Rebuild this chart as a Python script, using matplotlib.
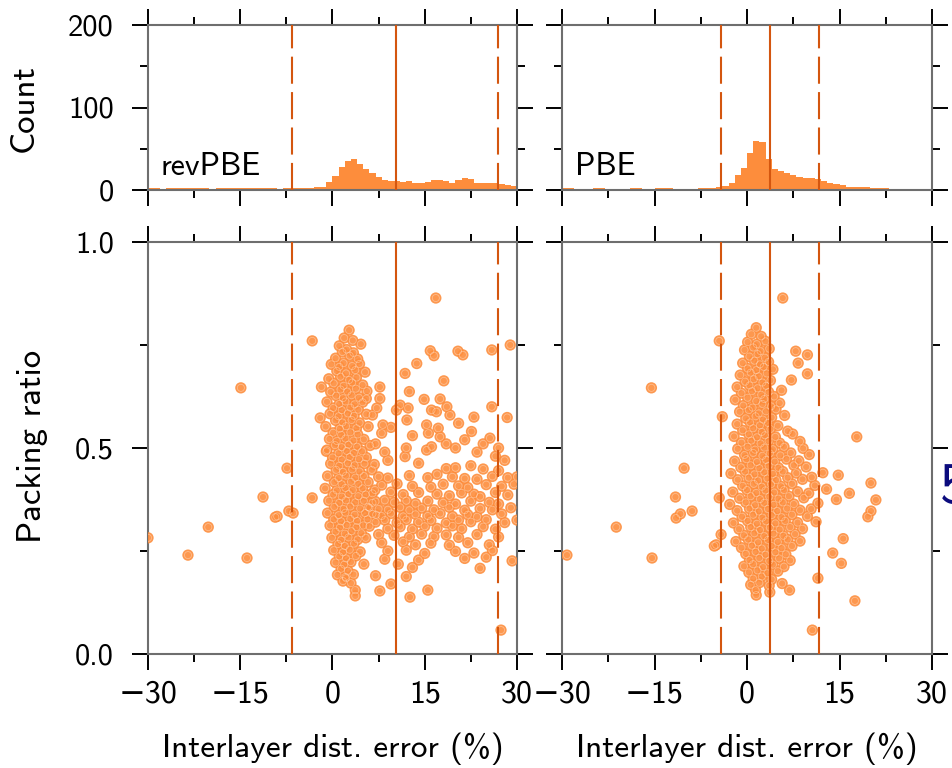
import numpy as np
import matplotlib
matplotlib.use("Agg")
import matplotlib.pyplot as plt
from matplotlib.ticker import MultipleLocator

plt.rcParams['font.family'] = ['cmss10', 'DejaVu Sans']
plt.rcParams['axes.unicode_minus'] = True

# ---------------- data ----------------
functionals = ["revPBE", "PBE"]
bin_centers = np.arange(-29.5, 30.0, 1.0)

rev_counts = [2, 2, 1, 2, 2, 2, 3, 2, 2, 2, 1, 2, 2, 3, 2, 2, 2, 2, 3, 2, 2, 1, 2, 3,
              2, 3, 3, 4, 4, 10,
              17, 28, 35, 37, 32, 26, 21, 16, 12, 11, 11, 10, 11, 9, 9, 10, 12, 12, 11, 9,
              12, 15, 13, 9, 9, 9, 8, 7, 6, 5]
pbe_counts = [2, 2, 1, 1, 1, 2, 2, 1, 1, 1, 1, 2, 2, 1, 1, 2, 2, 2, 1, 1, 1, 1, 2, 2, 3,
              4, 5, 9, 18, 27,
              45, 60, 58, 38, 25, 23, 21, 18, 16, 15, 14, 13, 11, 8, 7, 6, 4, 4, 4, 4,
              3, 2, 2, 1, 1, 1, 1, 1, 1, 1]

rev_mean, rev_lo, rev_hi = 10.3, -6.6, 26.9
pbe_mean, pbe_lo, pbe_hi = 3.7, -4.2, 11.7

# revPBE: (interlayer distance error %, packing ratio)
rev_core = [
    (2.7, 0.786), (1.9, 0.767), (3.3, 0.761), (1.1, 0.748), (4.6, 0.752),
    (1.6, 0.733), (2.3, 0.739), (3.4, 0.731), (0.5, 0.718), (2.8, 0.724), (4.1, 0.716),
    (-0.2, 0.703), (1.1, 0.697), (1.8, 0.706), (3.2, 0.699), (4.4, 0.704),
    (0.7, 0.687), (2.2, 0.681), (3.7, 0.689), (5.3, 0.684),
    (-0.6, 0.668), (1.3, 0.673), (2.7, 0.665), (3.9, 0.671),
    (0.2, 0.657), (1.8, 0.651), (3.2, 0.659), (4.9, 0.653), (-1.8, 0.648),
    (-0.3, 0.636), (1.3, 0.642), (2.4, 0.637), (3.8, 0.644), (5.6, 0.638),
    (0.6, 0.627), (1.7, 0.621), (3.1, 0.628), (4.3, 0.622),
    (-0.9, 0.612), (1.1, 0.607), (2.1, 0.613), (3.6, 0.606), (4.9, 0.611),
    (0.1, 0.597), (1.5, 0.592), (2.9, 0.598), (4.2, 0.593),
    (-0.4, 0.583), (1.0, 0.577), (2.5, 0.584), (3.5, 0.578), (5.5, 0.582),
    (0.5, 0.567), (1.6, 0.562), (3.1, 0.568), (4.4, 0.561),
    (-1.1, 0.552), (1.2, 0.547), (2.2, 0.553), (3.9, 0.548), (5.8, 0.552),
    (0.1, 0.537), (1.4, 0.532), (2.9, 0.538), (4.1, 0.533),
    (-0.5, 0.522), (0.7, 0.517), (2.1, 0.523), (3.4, 0.518), (5.1, 0.521),
    (0.4, 0.507), (1.5, 0.502), (2.6, 0.508), (4.0, 0.503), (6.1, 0.506),
    (-1.0, 0.492), (1.0, 0.487), (2.3, 0.493), (3.5, 0.488), (4.8, 0.492),
    (0.0, 0.477), (1.5, 0.472), (2.8, 0.478), (4.3, 0.473), (5.5, 0.477),
    (-0.3, 0.462), (1.1, 0.457), (2.5, 0.463), (3.6, 0.458), (5.2, 0.462),
    (0.6, 0.447), (1.7, 0.442), (3.2, 0.448), (4.4, 0.443), (6.4, 0.447),
    (-0.8, 0.432), (1.0, 0.427), (2.2, 0.433), (3.7, 0.428), (5.1, 0.432),
    (0.3, 0.417), (1.5, 0.412), (3.0, 0.418), (4.2, 0.413), (5.8, 0.417),
    (-1.2, 0.402), (0.7, 0.397), (2.1, 0.403), (3.3, 0.398), (4.9, 0.402), (6.9, 0.398),
    (0.1, 0.387), (1.5, 0.382), (2.6, 0.388), (4.2, 0.383), (5.4, 0.387),
    (-0.6, 0.372), (1.1, 0.367), (2.2, 0.373), (3.7, 0.368), (5.1, 0.372), (6.5, 0.367),
    (0.3, 0.357), (1.8, 0.352), (2.9, 0.358), (4.5, 0.353), (5.8, 0.357),
    (-0.8, 0.342), (1.0, 0.337), (2.1, 0.343), (3.6, 0.338), (5.3, 0.342), (7.1, 0.338),
    (0.2, 0.327), (1.4, 0.322), (2.9, 0.328), (4.0, 0.323), (5.7, 0.327),
    (-0.4, 0.312), (1.2, 0.307), (2.3, 0.313), (3.9, 0.308), (5.0, 0.312),
    (0.5, 0.297), (2.0, 0.292), (3.1, 0.298), (4.7, 0.293),
    (-0.1, 0.282), (1.4, 0.277), (2.6, 0.283), (4.1, 0.278), (5.4, 0.282),
    (0.9, 0.267), (2.0, 0.262), (3.5, 0.268),
    (0.2, 0.252), (1.7, 0.247), (2.8, 0.253), (4.5, 0.248),
    (1.1, 0.237), (2.2, 0.232), (3.8, 0.238),
    (0.5, 0.222), (1.9, 0.217), (3.0, 0.223), (5.1, 0.218),
    (1.4, 0.207), (2.5, 0.202), (0.8, 0.192), (2.1, 0.187), (3.4, 0.193),
    (1.7, 0.177), (3.0, 0.172), (2.2, 0.184), (3.7, 0.155), (3.7, 0.141), (7.7, 0.153),
]
rev_upper = [
    (7.7, 0.648), (5.5, 0.62), (7.7, 0.62), (7.2, 0.597), (6.5, 0.58), (8.2, 0.556),
    (8.0, 0.536), (9.5, 0.55), (7.0, 0.51), (8.5, 0.49), (9.0, 0.47), (6.8, 0.46),
    (10.4, 0.592), (11.0, 0.604), (12.3, 0.597), (12.1, 0.568), (11.8, 0.681),
    (13.7, 0.705), (12.5, 0.637), (14.9, 0.618), (17.5, 0.619), (18.1, 0.663),
    (16.1, 0.592), (16.9, 0.588), (18.6, 0.600), (19.1, 0.58), (15.3, 0.556),
    (15.6, 0.536), (17.2, 0.548), (17.5, 0.527), (22.6, 0.54), (25.9, 0.60),
    (28.4, 0.574), (25.6, 0.524), (15.3, 0.495), (16.1, 0.503), (18.5, 0.51),
    (20.0, 0.50), (21.5, 0.52), (23.5, 0.49), (24.5, 0.51), (27.0, 0.50),
    (28.0, 0.47), (26.5, 0.48), (20.5, 0.56), (23.0, 0.575), (13.0, 0.53), (12.0, 0.50),
    (11.8, 0.479), (14.0, 0.463),
]
rev_band = [
    (18.5, 0.45), (20.0, 0.452), (22.5, 0.457), (24.5, 0.449), (27.0, 0.445),
    (7.5, 0.43), (9.0, 0.427), (12.5, 0.433), (15.5, 0.428), (17.0, 0.436), (19.5, 0.43),
    (21.5, 0.426), (23.5, 0.424), (26.0, 0.431), (28.5, 0.428),
    (8.0, 0.41), (10.5, 0.413), (13.0, 0.407), (16.0, 0.405), (18.0, 0.412), (20.5, 0.408),
    (22.0, 0.404), (25.0, 0.411), (27.5, 0.407), (29.5, 0.412),
    (6.5, 0.39), (9.5, 0.393), (11.5, 0.387), (14.0, 0.392), (17.0, 0.388), (19.0, 0.384),
    (21.0, 0.391), (23.0, 0.388), (24.0, 0.382), (26.5, 0.392), (28.5, 0.386),
    (7.0, 0.37), (8.5, 0.373), (10.0, 0.368), (12.0, 0.372), (13.5, 0.365), (15.5, 0.371),
    (18.0, 0.367), (20.0, 0.364), (22.5, 0.371), (25.5, 0.368), (27.0, 0.364),
    (6.0, 0.355), (7.5, 0.352), (9.0, 0.35), (11.0, 0.356), (12.5, 0.349), (14.5, 0.354),
    (16.5, 0.35), (19.0, 0.356), (21.5, 0.349), (24.0, 0.353), (26.0, 0.35), (29.0, 0.355),
    (6.5, 0.34), (8.0, 0.335), (9.5, 0.341), (11.5, 0.334), (13.5, 0.339), (15.5, 0.335),
    (17.5, 0.341), (19.5, 0.334), (22.0, 0.338), (23.5, 0.333), (27.5, 0.34),
    (7.0, 0.32), (8.5, 0.325), (10.5, 0.319), (12.0, 0.326), (14.0, 0.32), (16.0, 0.324),
    (18.5, 0.318), (20.5, 0.325), (22.5, 0.321), (25.0, 0.326), (28.0, 0.319), (30.0, 0.325),
    (6.0, 0.31), (9.0, 0.304), (11.0, 0.309), (13.0, 0.303), (15.0, 0.31), (17.0, 0.305),
    (19.5, 0.311), (21.0, 0.304), (24.5, 0.309), (26.5, 0.303),
    (7.5, 0.29), (10.0, 0.288), (12.5, 0.284), (14.5, 0.291), (16.5, 0.285), (18.5, 0.289),
    (20.5, 0.283), (23.5, 0.29), (27.0, 0.284),
    (8.0, 0.27), (11.5, 0.272), (13.5, 0.265), (16.0, 0.269), (19.0, 0.264), (22.0, 0.27),
    (25.5, 0.265), (9.0, 0.25), (12.0, 0.252), (15.0, 0.244), (20.0, 0.249), (23.0, 0.245),
    (26.0, 0.251), (8.5, 0.23), (14.0, 0.228), (21.5, 0.232), (25.0, 0.235), (29.2, 0.226),
    (10.7, 0.218), (13.0, 0.21), (24.0, 0.208), (7.0, 0.19), (12.0, 0.188), (9.5, 0.17),
    (15.5, 0.155), (12.6, 0.138),
]
rev_outliers = [
    (-30.0, 0.282), (-23.5, 0.24), (-20.2, 0.308), (-14.9, 0.646), (-13.9, 0.233),
    (-11.3, 0.381), (-9.3, 0.332), (-9.0, 0.334), (-7.4, 0.451), (-7.1, 0.347),
    (-6.4, 0.342), (-3.3, 0.76), (-3.3, 0.379), (-2.0, 0.573), (-0.9, 0.495),
    (16.8, 0.864), (15.9, 0.736), (16.5, 0.724), (20.4, 0.735), (21.2, 0.726),
    (25.9, 0.738), (28.9, 0.75), (27.4, 0.058), (30.0, 0.43),
]

pbe_core = [
    (1.5, 0.792), (0.7, 0.776), (2.3, 0.771), (0.1, 0.757), (1.6, 0.752), (3.0, 0.759),
    (-0.4, 0.738), (1.0, 0.744), (2.2, 0.735), (3.6, 0.741), (0.4, 0.722), (1.7, 0.728), (2.9, 0.719),
    (-0.7, 0.706), (1.2, 0.712), (2.1, 0.703), (3.5, 0.709), (0.1, 0.693), (1.5, 0.689), (2.7, 0.697), (4.2, 0.691),
    (-1.1, 0.677), (0.6, 0.683), (1.9, 0.674), (3.2, 0.681), (-0.3, 0.661), (1.1, 0.667), (2.5, 0.659), (3.8, 0.664),
    (-1.6, 0.648), (0.4, 0.652), (1.7, 0.645), (3.1, 0.651), (-0.9, 0.633), (0.8, 0.638), (2.3, 0.629), (3.5, 0.636),
    (5.6, 0.64), (-1.9, 0.617), (0.1, 0.622), (1.5, 0.614), (2.8, 0.619), (4.4, 0.625),
    (-0.6, 0.603), (0.9, 0.598), (2.5, 0.607), (3.9, 0.601), (5.3, 0.609),
    (-1.2, 0.588), (0.3, 0.592), (1.9, 0.584), (3.1, 0.589), (4.7, 0.594),
    (-0.2, 0.572), (1.4, 0.577), (2.6, 0.569), (4.0, 0.574), (6.1, 0.579),
    (-1.6, 0.558), (0.5, 0.562), (2.1, 0.555), (3.4, 0.561), (5.0, 0.554),
    (-0.7, 0.543), (1.0, 0.548), (2.4, 0.539), (3.8, 0.546), (6.6, 0.541),
    (-2.1, 0.528), (0.3, 0.533), (1.6, 0.526), (2.9, 0.531), (4.6, 0.527), (7.4, 0.534),
    (-0.9, 0.513), (0.7, 0.518), (2.2, 0.511), (3.5, 0.517), (5.3, 0.512), (8.6, 0.516),
    (-1.5, 0.498), (0.1, 0.503), (1.3, 0.496), (2.8, 0.501), (4.2, 0.497), (6.0, 0.503), (9.1, 0.499),
    (-0.4, 0.483), (1.0, 0.488), (2.5, 0.481), (3.7, 0.487), (5.4, 0.482), (7.1, 0.488), (10.1, 0.484),
    (-2.0, 0.468), (-0.1, 0.473), (1.6, 0.466), (3.1, 0.471), (4.5, 0.467), (6.4, 0.473), (8.4, 0.469),
    (-1.0, 0.453), (0.6, 0.458), (2.0, 0.451), (3.5, 0.457), (5.1, 0.452), (7.6, 0.458), (9.6, 0.454),
    (-2.6, 0.438), (-0.3, 0.443), (1.2, 0.436), (2.8, 0.441), (4.2, 0.437), (5.8, 0.443), (8.0, 0.439),
    (-1.5, 0.423), (0.3, 0.428), (1.8, 0.421), (3.3, 0.426), (4.7, 0.422), (6.6, 0.428), (9.0, 0.424), (10.5, 0.429),
    (-0.7, 0.408), (1.1, 0.413), (2.4, 0.406), (3.9, 0.412), (5.5, 0.407), (7.3, 0.413), (11.0, 0.409),
    (-2.3, 0.393), (0.0, 0.398), (1.5, 0.391), (3.0, 0.397), (4.4, 0.392), (6.0, 0.398), (8.2, 0.394), (10.0, 0.39),
    (-1.2, 0.378), (0.6, 0.383), (2.1, 0.376), (3.6, 0.382), (5.1, 0.377), (6.8, 0.383), (9.2, 0.379),
    (-2.8, 0.363), (-0.2, 0.368), (1.3, 0.361), (2.8, 0.367), (4.3, 0.362), (5.8, 0.368), (7.6, 0.364), (11.5, 0.366),
    (-1.6, 0.348), (0.4, 0.353), (1.9, 0.346), (3.4, 0.352), (4.9, 0.347), (6.5, 0.353), (8.6, 0.349), (10.4, 0.352),
    (-0.8, 0.333), (1.0, 0.338), (2.5, 0.331), (4.0, 0.337), (5.6, 0.332), (7.3, 0.338), (9.8, 0.334),
    (-2.2, 0.318), (0.1, 0.323), (1.6, 0.316), (3.1, 0.322), (4.6, 0.317), (6.2, 0.323), (8.2, 0.319), (11.2, 0.321),
    (-1.3, 0.303), (0.6, 0.308), (2.1, 0.301), (3.7, 0.307), (5.3, 0.302), (7.0, 0.308), (9.0, 0.304),
    (-0.5, 0.288), (1.2, 0.293), (2.8, 0.286), (4.3, 0.292), (5.9, 0.287), (7.8, 0.291),
    (-1.8, 0.273), (0.2, 0.278), (1.8, 0.271), (3.4, 0.277), (5.0, 0.272), (6.6, 0.278), (8.6, 0.274),
    (-0.9, 0.258), (0.8, 0.263), (2.4, 0.256), (4.0, 0.262), (5.6, 0.257), (7.3, 0.262),
    (-0.2, 0.243), (1.4, 0.248), (3.0, 0.241), (4.6, 0.247), (6.3, 0.242),
    (0.4, 0.228), (2.0, 0.233), (3.6, 0.226), (5.2, 0.232), (7.0, 0.227),
    (-0.5, 0.213), (1.0, 0.218), (2.6, 0.211), (4.2, 0.217), (6.0, 0.212),
    (0.3, 0.198), (1.7, 0.203), (3.3, 0.196), (5.0, 0.201),
    (1.0, 0.183), (2.4, 0.188), (4.0, 0.181), (0.6, 0.168), (2.0, 0.173), (3.6, 0.166), (5.7, 0.171),
    (1.4, 0.155), (6.9, 0.155), (1.5, 0.143), (3.7, 0.15),
]
pbe_outliers = [
    (-29.2, 0.24), (-21.2, 0.308), (-15.5, 0.646), (-15.4, 0.233), (-11.6, 0.381),
    (-10.2, 0.451), (-11.5, 0.33), (-10.8, 0.34), (-8.9, 0.347), (-4.5, 0.76),
    (-4.5, 0.379), (-5.0, 0.265), (-4.0, 0.576), (-4.2, 0.29), (-5.3, 0.262),
    (5.8, 0.864), (7.9, 0.735), (9.8, 0.726), (8.3, 0.706), (9.8, 0.68), (7.2, 0.665),
    (17.8, 0.527), (20.1, 0.347), (20.9, 0.374), (20.1, 0.415), (19.6, 0.333),
    (17.5, 0.129), (10.6, 0.058), (14.8, 0.434), (16.6, 0.39), (15.6, 0.28),
    (15.3, 0.22), (13.9, 0.245), (12.9, 0.40), (14.5, 0.375), (12.3, 0.44),
    (11.5, 0.184), (31.0, 0.75),
]

rev_pts = np.array(rev_core + rev_upper + rev_band + rev_outliers)
pbe_pts = np.array(pbe_core + pbe_outliers)

# ---------------- styling ----------------
ORANGE = '#fd8d3c'
LINE = '#d4560f'
W, H = 953, 768

fig = plt.figure(figsize=(W / 100, H / 100), dpi=100)


def px_axes(x0, y0, x1, y1):
    return fig.add_axes([x0 / W, 1 - y1 / H, (x1 - x0) / W, (y1 - y0) / H])


def style(ax, xlab, ylab):
    for s in ax.spines.values():
        s.set_color('#6e6e6e')
        s.set_linewidth(1.5)
    ax.tick_params(which='both', direction='out', top=True, right=True,
                   color='black', width=1.4)
    ax.tick_params(which='major', length=11.5)
    ax.tick_params(which='minor', length=5.5)
    ax.tick_params(axis='x', labelbottom=xlab, labelsize=23, pad=7)
    ax.tick_params(axis='y', labelleft=ylab, labelsize=22, pad=13)
    ax.set_xlim(-30, 30)
    ax.xaxis.set_major_locator(MultipleLocator(15))
    ax.xaxis.set_minor_locator(MultipleLocator(7.5))


def vlines(ax, mean, lo, hi):
    ax.axvline(mean, color=LINE, lw=1.5, zorder=5)
    for v in (lo, hi):
        ax.axvline(v, color=LINE, lw=1.5, linestyle=(0, (13, 4)), zorder=5)


panels = [
    (148, 517, rev_counts, rev_pts, (rev_mean, rev_lo, rev_hi), functionals[0], True),
    (562, 932, pbe_counts, pbe_pts, (pbe_mean, pbe_lo, pbe_hi), functionals[1], False),
]

for x0, x1, counts, pts, lines, name, first in panels:
    axh = px_axes(x0, 25, x1, 190)
    axh.bar(bin_centers, counts, width=1.0, color=ORANGE, edgecolor='none', zorder=2)
    vlines(axh, *lines)
    axh.set_ylim(0, 200)
    axh.yaxis.set_major_locator(MultipleLocator(100))
    axh.yaxis.set_minor_locator(MultipleLocator(50))
    style(axh, False, first)
    axh.text(0.034, 0.09, name, transform=axh.transAxes, fontsize=23,
             ha='left', va='baseline')

    axs = px_axes(x0, 242, x1, 654)
    axs.scatter(pts[:, 0], pts[:, 1], s=66, color=ORANGE, alpha=0.9,
                edgecolors='none', zorder=3)
    axs.scatter(pts[:, 0], pts[:, 1], s=26, facecolors='none',
                edgecolors='white', linewidths=0.6, alpha=0.35, zorder=3)
    vlines(axs, *lines)
    axs.set_ylim(0, 1)
    axs.yaxis.set_major_locator(MultipleLocator(0.5))
    axs.yaxis.set_minor_locator(MultipleLocator(0.25))
    axs.yaxis.set_major_formatter(plt.FormatStrFormatter('%.1f'))
    style(axs, True, first)
    fig.text(((x0 + x1) / 2) / W, 1 - 757 / H, 'Interlayer dist. error (%)',
             ha='center', va='baseline', fontsize=24)

fig.text(24 / W, 1 - 108 / H, 'Count', rotation=90, ha='center', va='center', fontsize=25)
fig.text(33 / W, 1 - 446 / H, 'Packing ratio', rotation=90, ha='center', va='center', fontsize=25)

# fragments of the neighbouring panel at the right edge
fig.text(978 / W, 1 - 710 / H, '\u221230', ha='center', va='baseline', fontsize=23)
fig.text(940 / W, 1 - 503 / H, '5', color='#0b0b7d', ha='left', va='baseline', fontsize=42)

fig.savefig('out.png', dpi=100)
